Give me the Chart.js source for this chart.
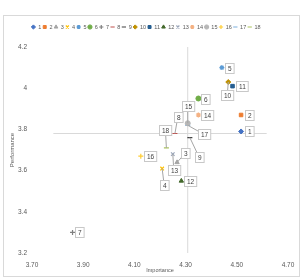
<!DOCTYPE html>
<html>
<head>
<meta charset="utf-8">
<script src="https://cdn.jsdelivr.net/npm/chart.js@4.4.1/dist/chart.umd.min.js"></script>
<style>
  html, body { margin: 0; padding: 0; background: #fff; }
  #wrap { width: 303px; height: 278px; position: relative; }
</style>
</head>
<body>
<div id="wrap"><canvas id="chart" width="303" height="278"></canvas></div>
<script>
// one point per item
const itemNames = ["1", "2", "3", "4", "5", "6", "7", "8", "9", "10", "11", "12", "13", "14", "15", "16", "17", "18"];
const importance = [4.58, 4.58, 4.28, 4.21, 4.49, 4.38, 3.79, 4.27, 4.34, 4.52, 4.54, 4.30, 4.26, 4.38, 4.33, 4.11, 4.33, 4.23];
const performance = [3.79, 3.87, 3.64, 3.61, 4.10, 3.95, 3.30, 3.78, 3.76, 4.03, 4.01, 3.55, 3.68, 3.87, 3.83, 3.67, 3.82, 3.71];

// average lines
const avgImportance = 4.33;
const avgPerformance = 3.78;

const colors = ["#4472C4", "#ED7D31", "#A5A5A5", "#FFC000", "#5B9BD5", "#70AD47", "#7f7f7f", "#C0504D",
  "#404040", "#BF9000", "#255E91", "#43682B", "#9aa5b8", "#F4B183", "#B7B7B7", "#FFCD33", "#7CAFDD", "#A9C25A"];
const markers = ["rectRot", "rect", "triangle", "crossRot", "star", "circle", "cross", "line", "line",
  "rectRot", "rect", "triangle", "crossRot", "star", "circle", "cross", "line", "line"];

// label box offsets from the point (px)
const labelOffsets = [[8, 0], [8, 0], [8, -9], [2, 16], [7, 0], [7, 0], [7, 0], [3, -17], [9, 19],
  [-1, 13], [9, 0], [9, 0], [1, 16], [9, 0], [0, -17], [9, 0], [16, 9], [-1, -18]];

const FONT = "'Liberation Sans', Arial, sans-serif";
const TEXT = "#595959";

const datasets = itemNames.map((name, i) => ({
  label: name,
  data: [{ x: importance[i], y: performance[i] }],
  pointStyle: markers[i],
  backgroundColor: colors[i],
  borderColor: colors[i],
  borderWidth: markers[i] === "line" || markers[i].startsWith("cross") || markers[i] === "star" ? 1.2 : 1,
  pointRadius: 2.5,
  pointHoverRadius: 2.5,
}));

datasets.push({
  label: "avgX",
  data: [{ x: avgImportance, y: 3.2 }, { x: avgImportance, y: 4.2 }],
  showLine: true,
  borderColor: "#d9d9d9",
  borderWidth: 1,
  pointRadius: 0,
});
datasets.push({
  label: "avgY",
  data: [{ x: 3.7, y: avgPerformance }, { x: 4.7, y: avgPerformance }],
  showLine: true,
  borderColor: "#d9d9d9",
  borderWidth: 1,
  pointRadius: 0,
});

const framePlugin = {
  id: "frame",
  beforeDraw(chart) {
    const ctx = chart.ctx;
    ctx.save();
    ctx.fillStyle = "#fff";
    ctx.fillRect(0, 0, chart.width, chart.height);
    ctx.strokeStyle = "#d9d9d9";
    ctx.lineWidth = 1;
    ctx.strokeRect(3.5, 15.5, 296, 261);
    ctx.restore();
  },
};

const labelPlugin = {
  id: "pointLabels",
  afterDatasetsDraw(chart) {
    const ctx = chart.ctx;
    ctx.save();
    ctx.font = "6.5px " + FONT;
    ctx.textAlign = "center";
    ctx.textBaseline = "middle";
    itemNames.forEach((name, i) => {
      const pt = chart.getDatasetMeta(i).data[0];
      const [dx, dy] = labelOffsets[i];
      const cx = pt.x + dx;
      const cy = pt.y + dy;
      const w = ctx.measureText(name).width + 5;
      const h = 10;
      if (Math.abs(dx) > 10 || Math.abs(dy) > 8) {
        ctx.strokeStyle = "#a6a6a6";
        ctx.lineWidth = 1;
        ctx.beginPath();
        ctx.moveTo(pt.x, pt.y);
        ctx.lineTo(cx, cy);
        ctx.stroke();
      }
      const bx = Math.round(cx - w / 2) + 0.5;
      const by = Math.round(cy - h / 2) + 0.5;
      ctx.fillStyle = "#fff";
      ctx.fillRect(bx, by, w, h);
      ctx.strokeStyle = "#c8c8c8";
      ctx.strokeRect(bx, by, w, h);
      ctx.fillStyle = "#404040";
      ctx.fillText(name, bx + w / 2, by + h / 2 + 0.5);
    });
    ctx.restore();
  },
};

new Chart(document.getElementById("chart"), {
  type: "scatter",
  data: { datasets },
  plugins: [framePlugin, labelPlugin],
  options: {
    responsive: false,
    animation: false,
    events: [],
    layout: { padding: { top: 22.75, left: 4, right: 15, bottom: 0 } },
    plugins: {
      tooltip: { enabled: false },
      legend: {
        position: "top",
        labels: {
          usePointStyle: true,
          boxWidth: 4,
          boxHeight: 3,
          padding: 1.5,
          color: TEXT,
          font: { size: 5.5, family: FONT },
          filter: (item) => item.datasetIndex < itemNames.length,
        },
      },
    },
    scales: {
      gap: {
        type: "linear",
        position: "top",
        display: true,
        grid: { display: false, drawTicks: false },
        border: { display: false },
        ticks: { display: false },
        afterFit: (s) => { s.height = 7.25; },
      },
      x: {
        type: "linear",
        position: "bottom",
        min: 3.7,
        max: 4.7,
        grid: { display: false, drawTicks: false },
        border: { display: false },
        ticks: {
          stepSize: 0.2,
          padding: 8,
          color: TEXT,
          font: { size: 6.5, family: FONT },
          callback: (v) => v.toFixed(2),
        },
        title: {
          display: true,
          text: "Importance",
          color: TEXT,
          font: { size: 5.5, family: FONT },
          padding: { top: 0, bottom: 4 },
        },
        afterFit: (s) => { s.height = 25; },
      },
      y: {
        type: "linear",
        min: 3.2,
        max: 4.2,
        grid: { display: false, drawTicks: false },
        border: { display: false },
        ticks: {
          stepSize: 0.2,
          padding: 5,
          color: TEXT,
          font: { size: 6.5, family: FONT },
          callback: (v) => String(Number(v.toFixed(1))),
        },
        title: {
          display: true,
          text: "Performance",
          color: TEXT,
          font: { size: 6, family: FONT },
          padding: { top: 5, bottom: 0 },
        },
        afterFit: (s) => { s.width = 28; },
      },
    },
  },
});
</script>
</body>
</html>
